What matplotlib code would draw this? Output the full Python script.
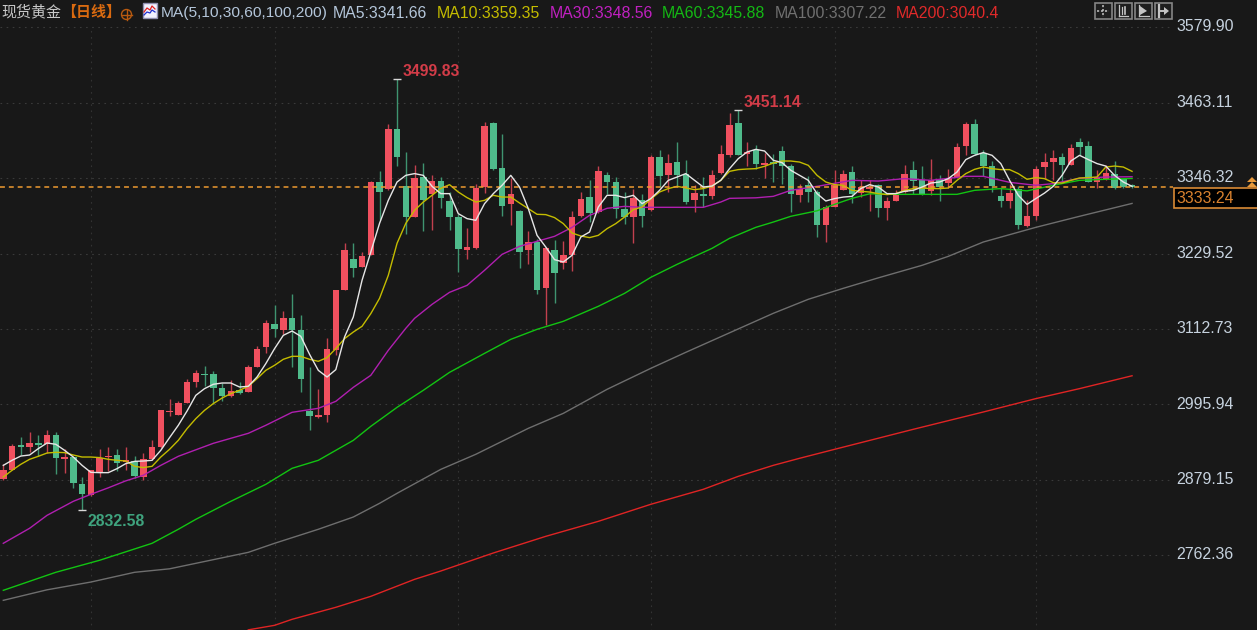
import numpy as np
import matplotlib
matplotlib.use("Agg")
import matplotlib.pyplot as plt
from matplotlib.patches import Rectangle, Polygon, Circle

opens = [2880.1,2895.1,2932.7,2930.1,2935.8,2934.3,2949.2,2911.1,2914.7,2873.4,
 2855.3,2889.9,2914.2,2917.2,2906.4,2908,2883.7,2911.1,2930.1,2984.3,
 2980.2,2998.3,3030.3,3043.7,3042.7,3021.5,3009.1,3018.9,3015.8,3054,
 3085,3120.1,3111.8,3129.4,3111.8,2985.9,2976.6,2980.2,3079.8,3173.7,
 3221.7,3208.8,3227.9,3340.4,3330.1,3422,3334.7,3286.2,3348.2,3322.4,
 3342,3311,3286.2,3235.7,3238.2,3332.7,3431.8,3362.1,3305.8,3296,
 3235.7,3247.5,3176.3,3235.7,3215.5,3227.9,3288.3,3317.2,3294,3351.8,
 3340.4,3298.1,3286.2,3313,3296.6,3379.2,3351.8,3371.4,3353.4,3312.6,
 3322.4,3319.3,3353.9,3382.8,3431.8,3384.3,3390.5,3366.8,3371.4,3389,
 3365.8,3320.9,3335.3,3325,3273.4,3301.8,3328.6,3356,3324,3330.1,
 3335.3,3300.2,3311.1,3325,3359.6,3344.1,3326,3345.6,3339.4,3348.2,
 3395.7,3429.7,3385.9,3365.7,3318.8,3311,3330.1,3272.3,3287.8,3363.7,
 3371.4,3379.2,3367.3,3402.4,3396.7,3340.5,3345.6,3353.4,3344.6,3336]
highs = [2904.3,2935.3,2945.6,2953.4,2949.2,2956,2952.9,2927.6,2914.7,2883.7,
 2895.1,2926.5,2930.2,2927.6,2930.2,2916.7,2920.9,2940.5,2988,3004,
 3001.4,3035.4,3049.9,3056.1,3047.8,3029.2,3034.4,3030.8,3057.1,3086.5,
 3127.3,3149.5,3140.7,3166.5,3135,3054,3020.5,3098.4,3173,3246,
 3246,3232,3342,3357.5,3429.7,3499.83,3386.9,3367.3,3369.8,3351.8,
 3348.2,3324.9,3291.4,3269.2,3336.8,3433.3,3433.3,3414.2,3346.6,3297.6,
 3264.6,3252.7,3239.8,3251.1,3248.6,3295.5,3324.9,3344,3365.2,3355.9,
 3348.2,3324.9,3330.1,3322.4,3382.8,3390.5,3383.3,3402.4,3375.1,3336.3,
 3348.2,3359.6,3398.3,3447.3,3451.14,3402.4,3398.3,3385.4,3384.3,3396.7,
 3367.8,3336.9,3349.8,3327.6,3304.4,3358.5,3358.5,3365.2,3343.1,3343.1,
 3337.9,3317.2,3328.6,3366.3,3373.5,3365.2,3376.6,3350.8,3360.1,3400.8,
 3433.4,3438.5,3390.5,3373,3331.7,3337.9,3333.7,3313.1,3364.7,3385.4,
 3389.5,3385.4,3399.8,3408.6,3403.9,3358.5,3366.3,3373,3345.6,3338]
lows = [2878.5,2894,2918.3,2922.4,2916.2,2920.9,2887.8,2889.9,2867.2,2832.58,
 2855,2883.7,2893,2893,2895.1,2882.7,2879.6,2909.5,2928.6,2978.2,
 2980,2998,3023,3024.1,2997.2,3001.4,3007.6,3012.7,3015.3,3054,
 3075.7,3100.5,3104.6,3054,3015.3,2956,2975.6,2968.9,3072.1,3173.7,
 3193.3,3208.8,3227.9,3282.1,3328.6,3365.2,3259.4,3286,3264.6,3266.6,
 3299.7,3266.6,3201.1,3221.7,3237.2,3323.4,3359.5,3287.8,3274.4,3206.8,
 3214,3167.5,3119.5,3153.1,3205.2,3202.6,3286.2,3278.5,3292.4,3322.4,
 3284.2,3275.9,3246,3270.8,3296,3332.7,3325,3332.7,3305.9,3294,
 3301.8,3314.7,3353.4,3379.2,3382.8,3365.8,3361.1,3346.7,3340.5,3337.9,
 3294,3309.5,3309.5,3255.3,3247.6,3301.8,3327.6,3308,3317.2,3295.6,
 3286.3,3282.2,3310.5,3323.4,3322.4,3319.8,3319.8,3310.5,3331.7,3347.2,
 3381.7,3381.7,3349.2,3325,3301.7,3300.7,3267.2,3270.8,3281.1,3345.6,
 3343,3340.5,3366.3,3381.7,3340.5,3331.7,3343,3329.1,3331.2,3331]
closes = [2895.1,2931.7,2930.7,2935.8,2933.8,2949.2,2913.1,2914.7,2874.4,2856.9,
 2894,2913.6,2916.7,2905.4,2910.5,2885.2,2912.1,2930.1,2986.9,2986.4,
 2998.3,3031.3,3044.7,3041.6,3021.5,3009.1,3016.9,3013.8,3054,3081.4,
 3122.1,3112.3,3129.4,3110.8,3034.9,2978.7,2980.2,3081.4,3172.7,3235.7,
 3207.3,3226.4,3340.4,3324.9,3422,3379.1,3286.2,3346.6,3313.1,3342,
 3315.1,3286.2,3236.2,3239.8,3330.6,3427.6,3361.1,3303.8,3322.4,3232,
 3247,3173.7,3238.2,3199.5,3227.9,3286.2,3313.6,3292.4,3357.5,3340.4,
 3299.1,3286.2,3315.1,3288.3,3379.2,3349.8,3369.4,3350.8,3309.5,3322.9,
 3319.3,3351.8,3384.3,3429.2,3382.8,3386.9,3367.8,3369.4,3367.8,3365.8,
 3321.4,3329.6,3325,3273.4,3301.8,3335.3,3353.4,3322.4,3332.7,3332.7,
 3300.2,3311.1,3320.9,3353.4,3342,3322.4,3344.1,3332.7,3347.2,3394.6,
 3429.7,3384.3,3365.7,3334.3,3311,3322.9,3273.4,3287.8,3360.1,3371.4,
 3377.1,3367.3,3393.1,3394.6,3340.5,3348.2,3354.4,3331.7,3332.7,3333.24]

ma5 = [2901.7,2909.5,2916.1,2917.7,2927.6,2936.3,2934.3,2925,2914.6,2901.7,
 2890.9,2890.4,2890.4,2896.6,2904.4,2907.9,2908.4,2909.5,2925,2944.6,
 2963.7,2985.8,3010.1,3020.5,3027.2,3029.2,3029.2,3023,3024.1,3038.5,
 3059.2,3082.4,3103,3109.7,3101.5,3073.6,3048.8,3038.5,3049.9,3100.4,
 3131.4,3188.2,3232,3276.4,3312,3340.4,3350.7,3353.4,3350.7,3333.7,
 3322.4,3322.4,3291.4,3283.7,3281.1,3306.9,3322.4,3335.3,3350.7,3332.6,
 3299.2,3257.8,3239.7,3220.2,3216.5,3226.9,3255.2,3263,3301.7,3319.8,
 3319.8,3316.2,3319.8,3306.9,3314.7,3327.5,3343,3348.1,3353.4,3343,
 3332.6,3334.2,3343,3361.1,3376.6,3386.8,3391,3388.4,3374,3370.4,
 3358.5,3350.7,3343,3322.4,3311,3314.7,3317.1,3318.2,3330.2,3336.3,
 3332.6,3322.4,3322.4,3326,3327.5,3332.6,3338.8,3340.4,3345.6,3355.9,
 3375.1,3381.7,3385.9,3381.7,3368.9,3343,3319.8,3305.8,3314.7,3323.3,
 3333.7,3350.7,3372.9,3381.7,3375.1,3368.9,3365.1,3350.7,3340.4,3333.7]
ma10 = [2883.6,2894,2903.3,2911,2915.7,2920.8,2921.9,2921.4,2917.7,2914.6,
 2914.6,2913.7,2911,2909.5,2908.4,2900.2,2898.2,2900.2,2914.6,2926.5,
 2940.4,2958.6,2974,2986.9,2997.3,3005.9,3012.8,3017.9,3024.1,3036,
 3048.8,3056.6,3065.9,3070.5,3070.5,3065.9,3062.8,3068.5,3082.4,3097.9,
 3108.1,3117,3136.6,3160.3,3195.9,3245.5,3276.4,3296.6,3309.4,3319.8,
 3330.6,3336.3,3324.9,3316.2,3309.4,3312,3319.8,3317.1,3317.1,3307.9,
 3299.2,3290.4,3289.9,3285.3,3276,3261.4,3256.8,3254.3,3257.8,3268.2,
 3276,3286.2,3297.6,3301.7,3314,3324.9,3330.2,3333.7,3331.1,3328.6,
 3330.2,3334.2,3343,3356.9,3359.6,3360.5,3361.1,3364.7,3369.8,3372.9,
 3372.9,3371.3,3366.2,3350.7,3340.4,3336.3,3335.3,3327.5,3326,3324.9,
 3322.4,3320.9,3322.4,3327.5,3330.2,3331.1,3330.2,3330.2,3331.1,3343,
 3353.4,3360,3363.6,3361.1,3359.6,3359.6,3353.4,3344.6,3347.2,3345.6,
 3339.4,3338.8,3343,3346.6,3347.2,3348.1,3363.6,3365.1,3363.6,3356.9]

ma30_idx = [0,3,5,8,10,12,14,16,18,20,24,28,30,33,36,38,40,42,44,46,47,49,51,53,55,57,59,61,63,65,67,69,71,73,75,80,82,83,86,88,90,93,97,100,103,106,110,112,115,118,120,123,126,129]
ma30 = [2781,2804.2,2824.3,2846,2856.8,2866.9,2877.7,2886.3,2901.7,2915.7,2935.8,2951.3,2963.7,2983.8,2990,3000.8,3022.5,3041.1,3079.8,3113.9,3129.3,3151,3169.6,3180.4,3203.7,3228.4,3240.8,3248.6,3256.3,3270.2,3288.8,3299.7,3302.7,3301.2,3301.2,3301.2,3309.4,3315.1,3315.9,3318.2,3327.5,3333.7,3343,3341.9,3345.6,3343,3349.2,3349.2,3339.9,3335.3,3337.9,3346.1,3348.1,3348.56]
ma60_idx = [0,6,11,17,20,22,26,30,33,36,40,42,45,48,51,55,58,61,64,68,71,74,77,81,83,86,88,90,93,95,97,99,102,106,109,111,114,117,120,123,126,129]
ma60 = [2708.2,2736.1,2754.7,2781,2802.7,2818.1,2846,2872.3,2897.1,2909.5,2940.4,2962.1,2991.5,3017.9,3045.7,3075.1,3096.8,3112.3,3124.7,3147.9,3168,3192.8,3212.9,3237.7,3253.2,3270.2,3278.4,3287.3,3295.8,3305.8,3315.1,3322.1,3321.3,3321.3,3321.3,3327.5,3330.2,3326.7,3335.3,3343,3344.6,3345.88]
ma100_idx = [0,5,10,15,19,25,28,31,36,40,43,45,50,54,60,64,69,74,78,83,88,92,96,100,105,108,112,118,123,129]
ma100 = [2692.7,2709,2721,2736.1,2741.5,2758.5,2767,2781,2802.7,2821.7,2842.9,2858.4,2895.5,2918.8,2959,2982.2,3019.4,3051.9,3076.7,3106.9,3137.1,3158.8,3175.8,3192,3211.4,3225.3,3247.5,3270.2,3287.3,3307.22]
ma200_idx = [28,31,33,38,42,47,50,56,62,68,74,80,84,88,91,95,104,112,118,123,129]
ma200 = [2647,2654,2663.3,2681.9,2698.9,2725.2,2738.1,2766,2791.8,2815,2841.4,2864.6,2884.7,2901.7,2912.6,2926.5,2957.5,2984.3,3005,3020.5,3040.4]

grid_prices = [3579.90,3463.11,3346.32,3229.52,3112.73,2995.94,2879.15,2762.36]
grid_candles = [10,31,52,74,95,118]
last_price = 3333.24

BG = '#181818'
UP, DOWN = '#f0505f', '#4fbb8b'
UPW, DOWNW = '#c2404e', '#3f9470'
C5, C10, C30, C60, C100, C200 = '#e6e6e6', '#c4bc00', '#b01fb0', '#12c412', '#6e6e6e', '#e02424'
TXT = '#c6d2de'
FONT = ['Liberation Sans', 'DejaVu Sans']
CJK = ['Noto Sans CJK SC', 'DejaVu Sans']
SLOT = 8.75; X0 = 3.3; PX = 1.5483

fig = plt.figure(figsize=(12.57, 6.30), dpi=100, facecolor=BG)
ax = fig.add_axes([0, 0, 1, 1], facecolor=BG)
ax.set_xlim(-X0 / SLOT, (1257 - X0) / SLOT)
ax.set_ylim(3622.2 - 630 * PX, 3622.2)
ax.axis('off')
plot_right = (1170 - X0) / SLOT

# grid
ax.hlines(grid_prices, ax.get_xlim()[0], plot_right, colors='#3a3a3a', lw=0.8,
          linestyles=(0, (1.5, 4)), zorder=1)
ax.vlines(grid_candles, 2600, 3580, colors='#333333', lw=0.8,
          linestyles=(0, (1.5, 4)), zorder=1)

# candles
x = np.arange(len(opens))
o, h, l, c = map(np.array, (opens, highs, lows, closes))
up = c >= o
ax.vlines(x[up], l[up], h[up], colors=UPW, lw=1.0, zorder=2)
ax.vlines(x[~up], l[~up], h[~up], colors=DOWNW, lw=1.0, zorder=2)
top, bot = np.maximum(o, c), np.minimum(o, c)
ax.bar(x[up], top[up] - bot[up], 0.74, bot[up], color=UP, lw=0, zorder=3)
ax.bar(x[~up], top[~up] - bot[~up], 0.74, bot[~up], color=DOWN, lw=0, zorder=3)

# moving averages
ax.plot(ma200_idx, ma200, color=C200, lw=1.0, zorder=4)
ax.plot(ma100_idx, ma100, color=C100, lw=1.0, zorder=4)
ax.plot(ma60_idx, ma60, color=C60, lw=1.0, zorder=4)
ax.plot(ma30_idx, ma30, color=C30, lw=1.0, zorder=4)
ax.plot(x, ma10, color=C10, lw=1.0, zorder=5)
ax.plot(x, ma5, color=C5, lw=1.0, zorder=6)

# extreme markers and labels
for idx, val, col, dx, dy in [(45, 3499.83, '#d23c48', 4, 5.5), (84, 3451.14, '#d23c48', 3.8, 6),
                              (9, 2832.58, '#3fa37e', 4, -8.5)]:
    ax.hlines(val, idx - 0.45, idx + 0.45, colors='#d8d8d8', lw=1.0, zorder=7)
    ax.annotate(f'{val:.2f}', (idx, val), xytext=(dx, dy), textcoords='offset points',
                color=col, fontsize=11.3, fontweight='bold', family=FONT, va='center', ha='left', zorder=8)

# last price line
ax.hlines(last_price, ax.get_xlim()[0], (1173 - X0) / SLOT, colors='#ee9a30', lw=1.1,
          linestyles=(0, (3.2, 2.6)), zorder=5)

# right axis labels
for p in grid_prices:
    ax.text((1176.5 - X0) / SLOT, p + 0.6, f'{p:.2f}', color=TXT, fontsize=11.4, family=FONT,
            ha='left', va='center', zorder=9)

# pixel overlay for chrome
ov = fig.add_axes([0, 0, 1, 1], facecolor='none')
ov.set_xlim(0, 1257); ov.set_ylim(630, 0); ov.axis('off')
ov.add_patch(Rectangle((1173.5, 188), 90, 20, fc='#000000', ec='#d98a34', lw=1.2, zorder=9))
ov.text(1176.5, 198.5, f'{last_price:.2f}', color='#d9822f', fontsize=11.4, family=FONT, va='center', zorder=10)
for yb, yt in [(187, 182), (182, 177)]:
    ov.add_patch(Polygon([[1247, yb], [1257, yb], [1252, yt]], closed=True, fc='#e89a3c', ec='none', zorder=10))

# header
ov.text(1, 12, '现货黄金', color='#c8c8c8', fontsize=10.8, family=CJK, va='center', ha='left')
ov.text(61, 12, '【日线】', color='#d96a10', fontsize=10.8, fontweight='bold', family=CJK, va='center', ha='left')
ov.add_patch(Circle((126.5, 14.5), 5, fc='none', ec='#b85a10', lw=1))
ov.plot([121.5, 131.5], [14.5, 14.5], color='#b85a10', lw=1)
ov.plot([126.5, 126.5], [9.5, 19.5], color='#b85a10', lw=1)
# indicator icon
ov.add_patch(Rectangle((142.5, 2.5), 14, 15, fc='#f2f2ff', ec='#9090b0', lw=1))
ov.plot([144, 147, 150, 152, 155], [12, 8, 10, 6, 9], color='#e02020', lw=0.9)
ov.plot([144, 147, 150, 152, 155], [15, 12, 13, 10, 12], color='#2030d0', lw=0.9)
for s, xp, col, fs in [('MA(5,10,30,60,100,200)', 161, '#b4c6da', 11.15), ('MA5:3341.66', 333, '#b4c6da', 11.4),
                       ('MA10:3359.35', 437, C10, 11.4), ('MA30:3348.56', 550, '#c020c0', 11.4),
                       ('MA60:3345.88', 662, '#14b814', 11.4), ('MA100:3307.22', 775, '#707070', 11.4),
                       ('MA200:3040.4', 896, '#e02a2a', 11.4)]:
    ov.text(xp, 13, s, color=col, fontsize=fs, family=FONT, va='center', ha='left')

# toolbar buttons
for bx in [1094.5, 1114.5, 1134.5, 1154.5]:
    ov.add_patch(Rectangle((bx, 2.5), 17, 16.5, fc='#1e1e1e', ec='#858585', lw=1.2))
ic = '#c4c4c4'
ov.plot([1103, 1103], [5, 17], color=ic, lw=1.1, ls=(0, (1.4, 1.2)))
ov.plot([1097, 1109], [11, 11], color=ic, lw=1.1, ls=(0, (1.4, 1.2)))
ov.plot([1118.5, 1118.5], [5, 16], color=ic, lw=0.9)
ov.plot([1118.5, 1128], [15.5, 15.5], color=ic, lw=0.9)
ov.plot([1121.5, 1121.5], [7, 14], color=ic, lw=0.9)
ov.plot([1125, 1125], [7, 14], color=ic, lw=1.2)
ov.plot([1138.5, 1138.5], [5, 16], color=ic, lw=0.9)
ov.plot([1138.5, 1149], [15.5, 15.5], color=ic, lw=0.9)
ov.add_patch(Polygon([[1140, 6], [1147, 11], [1140, 15]], closed=True, fc=ic, ec='none'))
ov.plot([1158.5, 1158.5], [5, 17], color=ic, lw=1.6)
ov.plot([1161, 1165], [11, 11], color=ic, lw=1.4)
ov.add_patch(Polygon([[1164, 7], [1169, 11], [1164, 15]], closed=True, fc=ic, ec='none'))

fig.savefig('out.png', dpi=100, facecolor=BG)
